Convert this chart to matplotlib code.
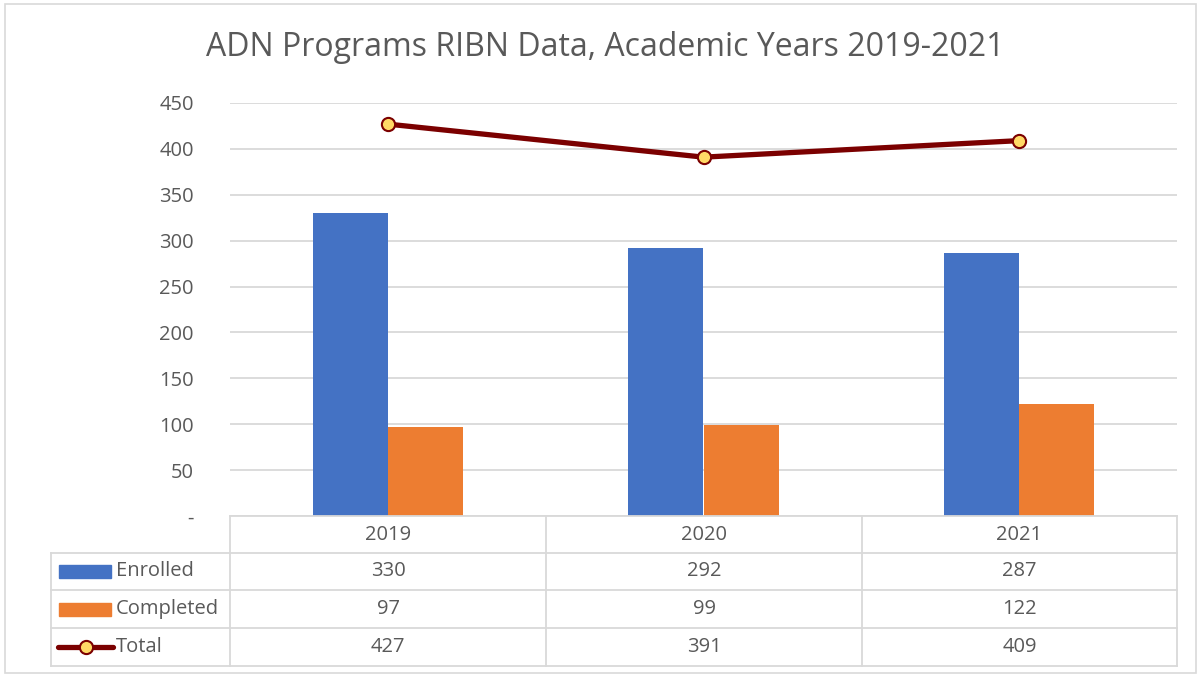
import matplotlib.pyplot as plt
from matplotlib.patches import Rectangle
from matplotlib.lines import Line2D

plt.rcParams['font.family'] = ['Open Sans', 'DejaVu Sans']

years = ["2019", "2020", "2021"]
enrolled = [330, 292, 287]
completed = [97, 99, 122]
total = [427, 391, 409]
series_names = ["Enrolled", "Completed", "Total"]

blue = "#4472C4"
orange = "#ED7D31"
dark_red = "#7B0000"
txt = "#595959"
grid = "#D9D9D9"

fig = plt.figure(figsize=(12.01, 6.77), dpi=100)
W, H = 1201, 677

# outer chart border
fig.patches.append(Rectangle((5 / W, 4 / H), 1191 / W, 669 / H, transform=fig.transFigure,
                             fill=False, edgecolor=grid, lw=1.2))

ax = fig.add_axes((230 / W, 1 - 516 / H, 947 / W, 413 / H))
x = list(range(len(years)))
bw = 0.2376
ax.bar([i - bw / 2 for i in x], enrolled, bw, color=blue, zorder=2)
ax.bar([i + bw / 2 for i in x], completed, bw, color=orange, zorder=2)
ax.plot(x, total, color=dark_red, lw=3.8, marker="o", ms=9.5, mfc="#FFD966",
        mec=dark_red, mew=1.5, zorder=3)
ax.set_xlim(-0.5, 2.5)
ax.set_ylim(0, 450)
ax.set_yticks(range(0, 451, 50))
ax.set_yticklabels(["-"] + [str(v) for v in range(50, 451, 50)])
ax.yaxis.grid(True, color=grid, lw=1.3, zorder=0)
ax.set_xticks([])
for s in ax.spines.values():
    s.set_visible(False)
ax.tick_params(axis="y", length=0, pad=26, labelsize=14.5, labelcolor=txt)

fig.text(605 / W, 1 - 48 / H, "ADN Programs RIBN Data, Academic Years 2019-2021",
         ha="center", va="center", fontsize=23, color=txt)

# data table below the plot
rows_y = [516, 553, 590, 628, 666]
cols_x = [51, 230, 546, 862, 1177]


def fx(px):
    return px / W


def fy(py):
    return 1 - py / H


def hline(x0, x1, y):
    fig.lines.append(Line2D([fx(x0), fx(x1)], [fy(y), fy(y)], transform=fig.transFigure,
                            color=grid, lw=1.3))


def vline(xp, y0, y1):
    fig.lines.append(Line2D([fx(xp), fx(xp)], [fy(y0), fy(y1)], transform=fig.transFigure,
                            color=grid, lw=1.3))


hline(cols_x[1], cols_x[-1], rows_y[0])
for yy in rows_y[1:]:
    hline(cols_x[0], cols_x[-1], yy)
vline(cols_x[0], rows_y[1], rows_y[-1])
for xx in cols_x[1:]:
    vline(xx, rows_y[0], rows_y[-1])

fs = 14.5
for j, yr in enumerate(years):
    cx = (cols_x[j + 1] + cols_x[j + 2]) / 2
    fig.text(fx(cx), fy((rows_y[0] + rows_y[1]) / 2), yr, ha="center", va="center",
             fontsize=fs, color=txt)

table_rows = [enrolled, completed, total]
for r, vals in enumerate(table_rows):
    cy = (rows_y[r + 1] + rows_y[r + 2]) / 2
    for j, v in enumerate(vals):
        cx = (cols_x[j + 1] + cols_x[j + 2]) / 2
        fig.text(fx(cx), fy(cy), str(v), ha="center", va="center", fontsize=fs, color=txt)
    fig.text(fx(116), fy(cy), series_names[r], ha="left", va="center", fontsize=fs, color=txt)

# legend keys in the table
key_h = 13
fig.patches.append(Rectangle((fx(59), fy((rows_y[1] + rows_y[2]) / 2 + key_h / 2)),
                             52 / W, key_h / H, transform=fig.transFigure, color=blue))
fig.patches.append(Rectangle((fx(59), fy((rows_y[2] + rows_y[3]) / 2 + key_h / 2)),
                             52 / W, key_h / H, transform=fig.transFigure, color=orange))
cy = fy((rows_y[3] + rows_y[4]) / 2)
fig.lines.append(Line2D([fx(58), fx(113)], [cy, cy], transform=fig.transFigure,
                        color=dark_red, lw=3.8, solid_capstyle="round"))
fig.lines.append(Line2D([fx(86)], [cy], transform=fig.transFigure, marker="o", ms=9.5,
                        mfc="#FFD966", mec=dark_red, mew=1.5))

fig.savefig("out.png", dpi=100)
